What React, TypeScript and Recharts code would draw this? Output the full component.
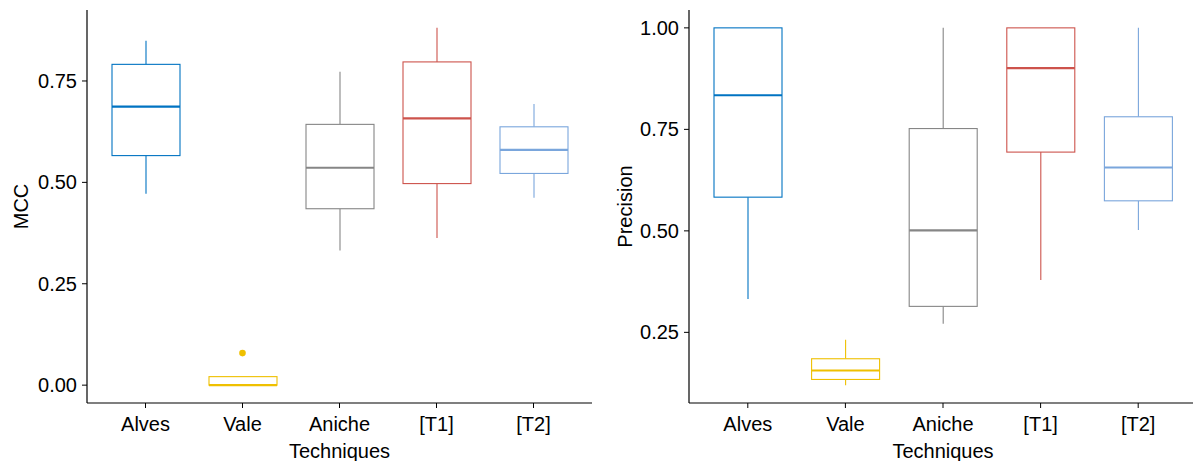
import React from 'react';
import { ComposedChart, Bar, Scatter, XAxis, YAxis } from 'recharts';

const categories = ['Alves', 'Vale', 'Aniche', '[T1]', '[T2]'];
const COLORS = ['#0073C2', '#EFC000', '#868686', '#CD534C', '#7AA6DC'];

// MCC (left panel)
const mccLow = [0.472, 0.0, 0.332, 0.363, 0.462];
const mccQ1 = [0.566, 0.0, 0.435, 0.497, 0.522];
const mccMedian = [0.687, 0.0, 0.536, 0.658, 0.58];
const mccQ3 = [0.791, 0.021, 0.643, 0.797, 0.637];
const mccHigh = [0.849, 0.021, 0.773, 0.881, 0.693];
const mccOutliers = [{ name: 'Vale', value: 0.079 }];
const mccTicks = [0, 0.25, 0.5, 0.75];

// Precision (right panel)
const precLow = [0.332, 0.12, 0.271, 0.379, 0.502];
const precQ1 = [0.583, 0.134, 0.314, 0.694, 0.574];
const precMedian = [0.834, 0.156, 0.501, 0.901, 0.656];
const precQ3 = [1.0, 0.185, 0.752, 1.0, 0.781];
const precHigh = [1.0, 0.232, 1.0, 1.0, 1.0];
const precTicks = [0.25, 0.5, 0.75, 1.0];

const FONT = '"Liberation Sans", Arial, sans-serif';

const buildRows = (low: number[], q1: number[], med: number[], q3: number[], high: number[]) =>
  categories.map((name, i) => ({
    name,
    range: [low[i], high[i]],
    low: low[i],
    q1: q1[i],
    med: med[i],
    q3: q3[i],
    high: high[i],
  }));

const mccRows = buildRows(mccLow, mccQ1, mccMedian, mccQ3, mccHigh);
const precRows = buildRows(precLow, precQ1, precMedian, precQ3, precHigh);

// box drawn inside the bar spanning [low, high]; inner values mapped linearly
function BoxShape(props: any) {
  const { x, y, width, height, payload, index } = props;
  const top = Math.min(y, y + height);
  const bot = Math.max(y, y + height);
  const lo = payload.low;
  const hi = payload.high;
  const px = (v: number) => (hi === lo ? bot : bot - ((v - lo) / (hi - lo)) * (bot - top));
  const color = COLORS[index % COLORS.length];
  const cx = x + width / 2;
  return (
    <g>
      <line x1={cx} x2={cx} y1={px(hi)} y2={px(payload.q3)} stroke={color} strokeWidth={1.1} />
      <line x1={cx} x2={cx} y1={px(payload.q1)} y2={px(lo)} stroke={color} strokeWidth={1.1} />
      <rect
        x={x}
        y={px(payload.q3)}
        width={width}
        height={Math.max(px(payload.q1) - px(payload.q3), 0)}
        fill="#fff"
        stroke={color}
        strokeWidth={1.1}
      />
      <line x1={x} x2={x + width} y1={px(payload.med)} y2={px(payload.med)} stroke={color} strokeWidth={2.2} />
    </g>
  );
}

const OutlierDot = (props: any) => <circle cx={props.cx} cy={props.cy} r={3.3} fill={COLORS[1]} />;

const YTitle = ({ viewBox, text, bx }: any) => {
  const cy = viewBox.y + viewBox.height / 2;
  return (
    <text
      x={bx}
      y={cy}
      transform={`rotate(-90, ${bx}, ${cy})`}
      textAnchor="middle"
      fontSize={20}
      fontFamily={FONT}
      fill="#000"
    >
      {text}
    </text>
  );
};

const XTitle = ({ viewBox }: any) => (
  <text
    x={viewBox.x + viewBox.width / 2}
    y={viewBox.y + 54.5}
    textAnchor="middle"
    fontSize={20}
    fontFamily={FONT}
    fill="#000"
  >
    Techniques
  </text>
);

const tickStyle = { fontSize: 20, fontFamily: FONT, fill: '#000' };
const axisLine = { stroke: '#000', strokeWidth: 1.2 };

type PanelProps = {
  rows: any[];
  ticks: number[];
  domain: [number, number];
  title: string;
  titleX: number;
  yWidth: number;
  width: number;
  marginRight: number;
  outliers?: { name: string; value: number }[];
};

function Panel({ rows, ticks, domain, title, titleX, yWidth, width, marginRight, outliers }: PanelProps) {
  return (
    <ComposedChart
      width={width}
      height={461}
      data={rows}
      margin={{ top: 10, right: marginRight, bottom: 0, left: 0 }}
    >
      <XAxis
        dataKey="name"
        type="category"
        allowDuplicatedCategory={false}
        padding={{ left: 10, right: 10 }}
        height={58}
        tick={tickStyle}
        tickSize={5}
        tickMargin={9}
        axisLine={axisLine}
        tickLine={{ stroke: '#000' }}
        label={{ content: (p: any) => <XTitle viewBox={p.viewBox} /> }}
      />
      <YAxis
        type="number"
        domain={domain}
        ticks={ticks}
        allowDataOverflow
        width={yWidth}
        tick={tickStyle}
        tickSize={5}
        tickMargin={5}
        tickFormatter={(v: number) => v.toFixed(2)}
        axisLine={axisLine}
        tickLine={{ stroke: '#000' }}
        label={{ content: (p: any) => <YTitle viewBox={p.viewBox} text={title} bx={titleX} /> }}
      />
      <Bar dataKey="range" barSize={68} shape={<BoxShape />} isAnimationActive={false} />
      {outliers && (
        <Scatter data={outliers} dataKey="value" shape={<OutlierDot />} isAnimationActive={false} />
      )}
    </ComposedChart>
  );
}

export default function App() {
  return (
    <div
      style={{
        position: 'absolute',
        left: 0,
        top: 0,
        width: 1193,
        height: 461,
        overflow: 'hidden',
        background: '#fff',
        fontFamily: FONT,
      }}
    >
      <div style={{ position: 'absolute', left: 0, top: 0 }}>
        <Panel
          rows={mccRows}
          ticks={mccTicks}
          domain={[-0.044, 0.925]}
          title="MCC"
          titleX={28}
          yWidth={87}
          width={600}
          marginRight={8}
          outliers={mccOutliers}
        />
      </div>
      <div style={{ position: 'absolute', left: 600, top: 0 }}>
        <Panel
          rows={precRows}
          ticks={precTicks}
          domain={[0.076, 1.044]}
          title="Precision"
          titleX={31.5}
          yWidth={89}
          width={597}
          marginRight={0}
        />
      </div>
    </div>
  );
}
